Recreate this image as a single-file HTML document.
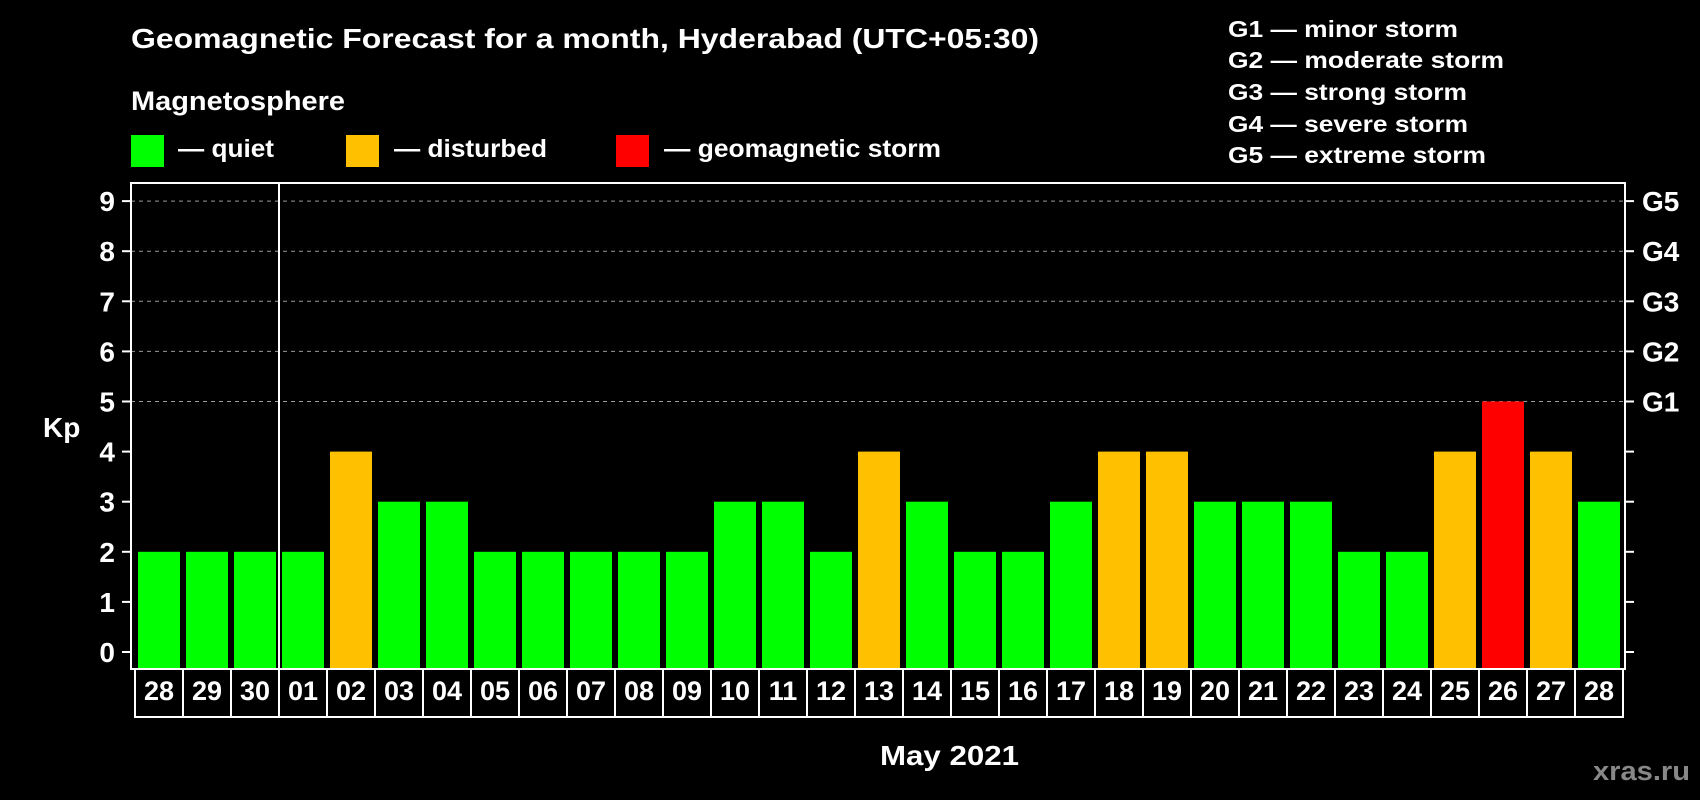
<!DOCTYPE html>
<html><head><meta charset="utf-8"><style>
html,body{margin:0;padding:0;background:#000;}
svg{display:block;font-family:"Liberation Sans",Arial,sans-serif;font-weight:bold;}
</style></head><body>
<svg id="chart" width="1700" height="800" viewBox="0 0 1700 800" xmlns="http://www.w3.org/2000/svg">
<rect width="1700" height="800" fill="#000"/>
<text x="131" y="48" fill="#fff" font-size="28" textLength="908" lengthAdjust="spacingAndGlyphs">Geomagnetic Forecast for a month, Hyderabad (UTC+05:30)</text>
<text x="131" y="110" fill="#fff" font-size="27" textLength="214" lengthAdjust="spacingAndGlyphs">Magnetosphere</text>
<rect x="131" y="135" width="33" height="32" fill="#00ff00"/>
<text x="178" y="157" fill="#fff" font-size="25" textLength="96" lengthAdjust="spacingAndGlyphs">— quiet</text>
<rect x="346" y="135" width="33" height="32" fill="#ffc000"/>
<text x="394" y="157" fill="#fff" font-size="25" textLength="153" lengthAdjust="spacingAndGlyphs">— disturbed</text>
<rect x="616" y="135" width="33" height="32" fill="#ff0000"/>
<text x="664" y="157" fill="#fff" font-size="25" textLength="277" lengthAdjust="spacingAndGlyphs">— geomagnetic storm</text>
<g fill="#fff" font-size="23">
<text x="1228" y="37" textLength="230" lengthAdjust="spacingAndGlyphs">G1 — minor storm</text>
<text x="1228" y="68" textLength="276" lengthAdjust="spacingAndGlyphs">G2 — moderate storm</text>
<text x="1228" y="100" textLength="239" lengthAdjust="spacingAndGlyphs">G3 — strong storm</text>
<text x="1228" y="132" textLength="240" lengthAdjust="spacingAndGlyphs">G4 — severe storm</text>
<text x="1228" y="163" textLength="258" lengthAdjust="spacingAndGlyphs">G5 — extreme storm</text>
</g>
<text x="43" y="437" fill="#fff" font-size="28">Kp</text>
<text x="880" y="765" fill="#fff" font-size="28" textLength="139" lengthAdjust="spacingAndGlyphs">May 2021</text>
<text x="1593" y="780" fill="#888" font-size="27" textLength="97" lengthAdjust="spacingAndGlyphs">xras.ru</text>
<g id="grid"></g><g id="bars"></g><g id="axes"></g><g id="xlabels"></g>
</svg>
<script>
const days = ["28","29","30","01","02","03","04","05","06","07","08","09","10","11","12","13","14","15","16","17","18","19","20","21","22","23","24","25","26","27","28"];
const kpValues = [2,2,2,2,4,3,3,2,2,2,2,2,3,3,2,4,3,2,2,3,4,4,3,3,3,2,2,4,5,4,3];
const yTicks = [0,1,2,3,4,5,6,7,8,9];
const gLabels = ["G1","G2","G3","G4","G5"];
const gLevels = [5,6,7,8,9];
const monthStartIndex = 3;

const NS = "http://www.w3.org/2000/svg";
const plotL = 131, plotR = 1625, plotT = 183, plotB = 669;
const y0 = 652, unit = 50.1;
const step = 48, firstX = 138, barW = 42;
function yScale(v){ return y0 - v*unit; }
function xScale(i){ return firstX + i*step; }
function mk(tag, attrs, parent){ const e = document.createElementNS(NS, tag); for (const k in attrs) e.setAttribute(k, attrs[k]); parent.appendChild(e); return e; }
function colorFor(v){ return v >= 5 ? "#ff0000" : (v >= 4 ? "#ffc000" : "#00ff00"); }

const grid = document.getElementById("grid");
gLevels.forEach((lv, i) => {
  const l = mk("line", {x1: plotL, x2: plotR, y1: yScale(lv), y2: yScale(lv), stroke: "#999", "stroke-width": 1, "stroke-dasharray": "4,4"}, grid);
  
  
});

const bars = document.getElementById("bars");
kpValues.forEach((v, i) => {
  const r = mk("rect", {x: xScale(i), y: yScale(v), width: barW, height: plotB - 1 - yScale(v), fill: colorFor(v)}, bars);
  
  
});

const axes = document.getElementById("axes");
const frame = mk("rect", {x: plotL, y: plotT, width: plotR - plotL, height: plotB - plotT, fill: "none", stroke: "#fff", "stroke-width": 2}, axes);


const sep = mk("line", {x1: xScale(monthStartIndex) - 3, x2: xScale(monthStartIndex) - 3, y1: plotT, y2: plotB, stroke: "#fff", "stroke-width": 2}, axes);


yTicks.forEach(t => {
  const y = yScale(t);
  const tl = mk("line", {x1: 122, x2: plotL, y1: y, y2: y, stroke: "#fff", "stroke-width": 2}, axes);
  
  
  const tr = mk("line", {x1: plotR, x2: 1634, y1: y, y2: y, stroke: "#fff", "stroke-width": 2}, axes);
  
  
  const tx = mk("text", {x: 115, y: y + 10, fill: "#fff", "font-size": 28, "text-anchor": "end"}, axes);
  tx.textContent = String(t);
  
  
});
gLevels.forEach((lv, i) => {
  const tx = mk("text", {x: 1642, y: yScale(lv) + 10, fill: "#fff", "font-size": 28}, axes);
  tx.textContent = gLabels[i];
  
  
});

const xl = document.getElementById("xlabels");
days.forEach((d, i) => {
  const bx = xScale(i) - 3;
  const box = mk("rect", {x: bx, y: plotB, width: step, height: 48, fill: "none", stroke: "#fff", "stroke-width": 2}, xl);
  
  
  const tx = mk("text", {x: bx + step/2, y: 700, fill: "#fff", "font-size": 27, "text-anchor": "middle"}, xl);
  tx.textContent = d;
  
  
});
</script>
</body></html>
